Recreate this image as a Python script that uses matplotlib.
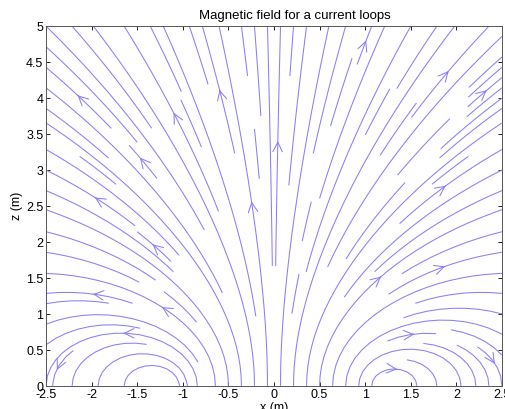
import numpy as np
import matplotlib
matplotlib.use("Agg")
import matplotlib.pyplot as plt

plt.rcParams['font.family'] = ['Liberation Sans', 'DejaVu Sans']

# loop parameters
loop_radius = 1.25      # m, wire crosses the x-z plane at x = +/- 1.25
loop_height = 0.0       # m, plane of the loop
current = 1.0

x_range = [-2.5, 2.5]
z_range = [0.0, 5.0]
x_ticks = [-2.5, -2, -1.5, -1, -0.5, 0, 0.5, 1, 1.5, 2, 2.5]
z_ticks = [0, 0.5, 1, 1.5, 2, 2.5, 3, 3.5, 4, 4.5, 5]
line_color = '#8a7ef8'


def loop_field(x, z, a, z0, n_seg=720):
    """Biot-Savart field of a circular loop, evaluated in the y=0 plane."""
    phi = np.linspace(0, 2 * np.pi, n_seg, endpoint=False)
    dphi = 2 * np.pi / n_seg
    X = x[..., None]
    Z = z[..., None] - z0
    rx = X - a * np.cos(phi)
    ry = -a * np.sin(phi)
    r3 = (rx**2 + ry**2 + Z**2) ** 1.5
    bx = np.sum(np.cos(phi) * Z / r3, axis=-1) * a * dphi
    bz = np.sum((a - X * np.cos(phi)) / r3, axis=-1) * a * dphi
    return current * bx, current * bz


xs = np.linspace(x_range[0], x_range[1], 161)
zs = np.linspace(z_range[0] + 0.003, z_range[1], 161)
XX, ZZ = np.meshgrid(xs, zs)
BX, BZ = loop_field(XX, ZZ, loop_radius, loop_height)

fig = plt.figure(figsize=(5.06, 4.09), dpi=100)
ax = fig.add_axes([0.091, 0.056, 0.901, 0.880])

ax.streamplot(XX, ZZ, BX, BZ, density=1.2, color=line_color,
              linewidth=0.75, arrowstyle='->', arrowsize=1.7)

# matlab's streamslice puts far fewer arrowheads; thin them out
for i, p in enumerate(list(ax.patches)):
    if i % 4 != 0:
        p.remove()

ax.set_xlim(x_range)
ax.set_ylim(z_range)
ax.set_xticks(x_ticks)
ax.set_yticks(z_ticks)
ax.set_xticklabels(['%g' % t for t in x_ticks])
ax.set_yticklabels(['%g' % t for t in z_ticks])
ax.tick_params(direction='in', top=True, right=True, labelsize=9,
               length=3, width=0.6, pad=2)
for s in ax.spines.values():
    s.set_linewidth(0.7)
    s.set_color('#555555')

ax.set_title('Magnetic field for a current loops', fontsize=9.5, pad=5, x=0.546)
ax.set_xlabel('x (m)', fontsize=9, labelpad=1)
ax.set_ylabel('z (m)', fontsize=9, labelpad=2)

fig.savefig('out.png', dpi=100)
